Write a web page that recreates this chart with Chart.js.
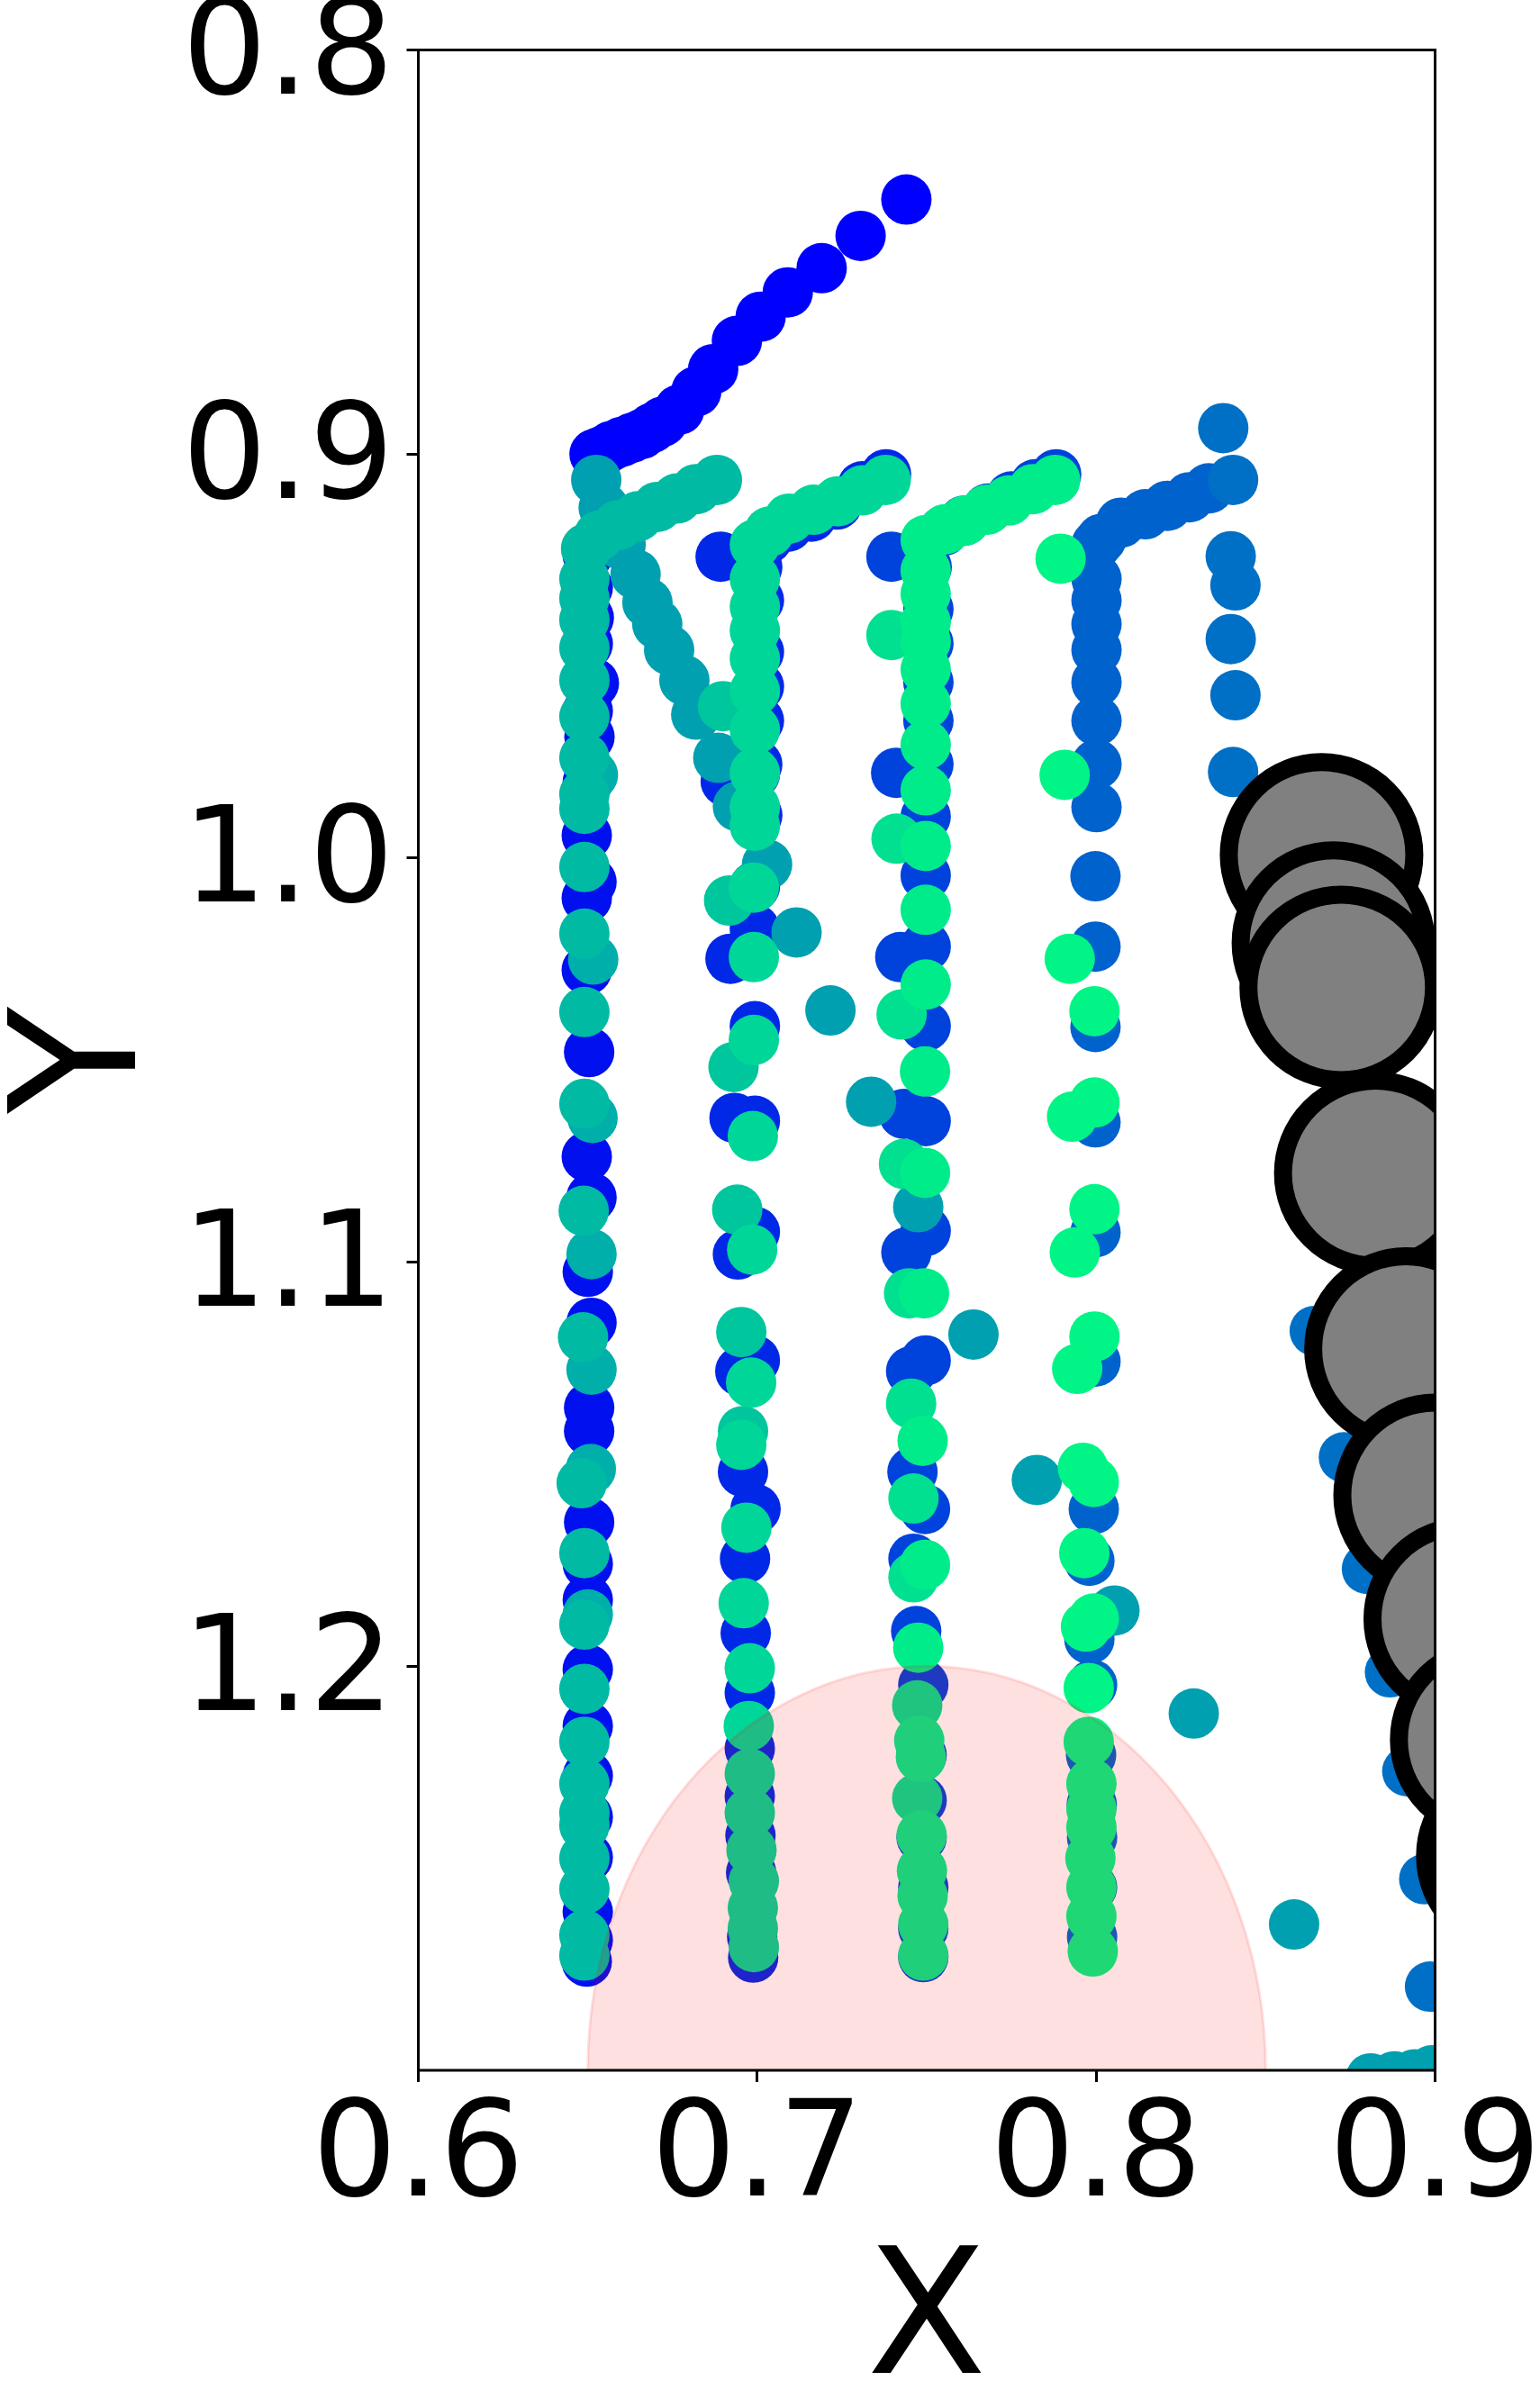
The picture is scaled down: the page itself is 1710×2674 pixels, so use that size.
<!DOCTYPE html>
<html>
<head>
<meta charset="utf-8">
<title>Trajectories</title>
<script src="https://cdn.jsdelivr.net/npm/chart.js@4.4.1/dist/chart.umd.min.js"></script>
<style>
  html, body { margin: 0; padding: 0; background: #fff; overflow: hidden; }
  #wrap { width: 1710px; height: 2674px; position: relative; }
</style>
</head>
<body>
<div id="wrap"><canvas id="chart"></canvas></div>
<script>
// axis ranges and ticks
const xMin = 0.6, xMax = 0.9;
const yMin = 0.8, yMax = 1.3;
const xTicks = [0.6, 0.7, 0.8, 0.9];
const yTicks = [0.8, 0.9, 1.0, 1.1, 1.2];

// pink ellipse: centre and half axes (data units)
const ellipseCenter = [0.75, 1.3];
const ellipseRadii = [0.1, 0.1];

// points [x, y], one array per colour
const blueDiag = [[0.744,0.837],[0.7305,0.846],[0.719,0.854],[0.709,0.860],[0.701,0.866],[0.694,0.872],[0.687,0.879],
  [0.682,0.8845],[0.677,0.889],[0.672,0.892],[0.669,0.8935],[0.666,0.895],[0.663,0.896],[0.660,0.897],[0.657,0.898],
  [0.655,0.899],[0.6535,0.8995],[0.652,0.900]];

const blue65 = [[0.650,0.925],[0.650,0.933],[0.6503,0.9405],[0.650,0.947],[0.6518,0.9567],[0.650,0.9636],[0.6505,0.970],
  [0.650,0.9812],[0.6497,0.9944],[0.6511,1.0059],[0.6497,1.0099],[0.6497,1.0277],[0.6504,1.048],[0.6497,1.0739],
  [0.6511,1.084],[0.650,1.1024],[0.6511,1.115],[0.6504,1.136],[0.6504,1.1418],[0.6504,1.1644],[0.650,1.1747],
  [0.650,1.1836],[0.650,1.2008],[0.650,1.2148],[0.650,1.2271],[0.650,1.2373],[0.650,1.2473],[0.650,1.2608],
  [0.650,1.2678],[0.6497,1.2731]];

const blue70 = [[0.738,0.905],[0.731,0.908],[0.7235,0.9125],[0.716,0.9155],[0.709,0.918],[0.703,0.921],
  [0.6892,0.9254],[0.700,0.928],[0.7005,0.9362],[0.7005,0.949],[0.7005,0.9575],[0.7005,0.966],[0.700,0.9768],
  [0.6907,0.981],[0.6993,0.9792],[0.700,0.9894],[0.6993,1.007],[0.6993,1.0176],[0.6921,1.0249],[0.6993,1.0416],
  [0.6933,1.0643],[0.6993,1.065],[0.6993,1.0925],[0.6943,1.0981],[0.6993,1.1243],[0.695,1.127],[0.6958,1.1519],
  [0.6995,1.1611],[0.6964,1.1734],[0.6966,1.1918],[0.6978,1.2066],[0.6978,1.2204],[0.6978,1.2322],[0.698,1.2419],
  [0.6982,1.2511],[0.6985,1.267],[0.6988,1.2721]];

const blue75 = [[0.7882,0.905],[0.782,0.9075],[0.775,0.9105],[0.768,0.9135],[0.761,0.9165],[0.755,0.919],
  [0.7396,0.9254],[0.750,0.928],[0.7505,0.9384],[0.7505,0.9469],[0.7505,0.9565],[0.7505,0.966],[0.7505,0.9768],
  [0.741,0.9789],[0.7497,0.9897],[0.7497,1.0043],[0.7497,1.0219],[0.7422,1.0245],[0.7497,1.0416],[0.7433,1.0633],
  [0.7497,1.0651],[0.7497,1.0923],[0.744,1.0976],[0.7497,1.1243],[0.7454,1.127],[0.7458,1.1519],[0.7495,1.1611],
  [0.7461,1.1734],[0.7469,1.1913],[0.749,1.2046],[0.7485,1.222],[0.7485,1.2332],[0.7485,1.2424],[0.749,1.2547],
  [0.749,1.2649],[0.749,1.272]];

const blue80 = [[0.8332,0.9085],[0.8275,0.9107],[0.821,0.9128],[0.8145,0.9149],[0.8073,0.917],[0.8015,0.921],
  [0.8001,0.9224],[0.8001,0.9309],[0.8001,0.9362],[0.8001,0.9421],[0.8001,0.9485],[0.8001,0.9565],[0.8001,0.966],
  [0.8001,0.9768],[0.8001,0.9874],[0.7998,1.0045],[0.7998,1.0219],[0.7998,1.0418],[0.7998,1.0654],[0.7998,1.0926],
  [0.7998,1.1246],[0.7993,1.1611],[0.798,1.1739],[0.798,1.1933],[0.7988,1.2046],[0.7985,1.222],[0.7987,1.2342],
  [0.7988,1.2424],[0.7988,1.2547],[0.7988,1.267]];

const steel84 = [[0.8375,0.8936],[0.8404,0.9064],[0.8397,0.9253],[0.8411,0.9325],[0.8397,0.9458],[0.8411,0.9597],
  [0.8404,0.9787],[0.850,1.003],[0.854,1.04],[0.862,1.075],[0.8645,1.117],[0.8731,1.1483],[0.8799,1.1759],
  [0.8867,1.2015],[0.8918,1.226],[0.8968,1.2527],[0.8985,1.2793]];

const tealPath = [[0.6525,0.9064],[0.6547,0.9133],[0.6597,0.9224],[0.6641,0.9298],[0.6676,0.9368],[0.6705,0.9421],
  [0.674,0.9485],[0.6785,0.956],[0.682,0.9645],[0.6885,0.9752],[0.6943,0.9872],[0.7029,1.0016],[0.7116,1.0184],
  [0.7216,1.0377],[0.7336,1.0603],[0.7475,1.0864],[0.7638,1.1179],[0.7825,1.1539],[0.8054,1.1862],[0.8288,1.2117],
  [0.8584,1.2639],[0.881,1.302],[0.888,1.3015],[0.894,1.301],[0.899,1.300]];

const teal65b = [[0.6515,0.9794],[0.6516,1.0251],[0.6514,1.0643],[0.6511,1.098],[0.6511,1.1266],[0.6509,1.1512],
  [0.650,1.1872]];

const teal65 = [[0.6881,0.9064],[0.682,0.9087],[0.6763,0.911],[0.6705,0.9131],[0.6648,0.9154],[0.659,0.9176],
  [0.6533,0.9202],[0.6495,0.9234],[0.649,0.9309],[0.649,0.9357],[0.649,0.941],[0.649,0.948],[0.649,0.956],
  [0.649,0.965],[0.649,0.9752],[0.649,0.9842],[0.649,0.9878],[0.649,1.0022],[0.649,1.0187],[0.649,1.0381],
  [0.649,1.0608],[0.6488,1.0873],[0.6486,1.1186],[0.6482,1.1547],[0.649,1.172],[0.649,1.1897],[0.649,1.2056],
  [0.649,1.2187],[0.649,1.2291],[0.649,1.2363],[0.649,1.2394],[0.649,1.2475],[0.649,1.2552],[0.649,1.2665],
  [0.649,1.2716]];

const turq70 = [[0.6899,0.9624],[0.6917,1.0105],[0.693,1.0517],[0.6941,1.087],[0.6953,1.1173],[0.6958,1.1418]];

const green70 = [[0.7379,0.9064],[0.731,0.909],[0.7238,0.9117],[0.7166,0.9138],[0.7094,0.916],[0.7036,0.9192],
  [0.6993,0.9224],[0.6993,0.9309],[0.6993,0.9378],[0.6993,0.9437],[0.6993,0.9506],[0.6993,0.9586],[0.6993,0.9682],
  [0.6993,0.9789],[0.6993,0.9874],[0.6993,0.992],[0.699,1.0073],[0.699,1.0245],[0.699,1.045],[0.6987,1.0688],
  [0.6985,1.0969],[0.6982,1.1298],[0.6953,1.1452],[0.6968,1.1657],[0.696,1.1844],[0.6978,1.2005],[0.6975,1.2148],
  [0.6978,1.2266],[0.6978,1.2363],[0.6983,1.2455],[0.699,1.2532],[0.6987,1.2598],[0.6987,1.2649],[0.699,1.2695]];

const green75 = [[0.7396,0.9448],[0.7411,0.9952],[0.7426,1.0387],[0.7433,1.0757],[0.7448,1.1077],[0.7454,1.135],
  [0.7461,1.1585],[0.7461,1.178],[0.7472,1.2097],[0.7472,1.2327]];

const spring75 = [[0.7879,0.9064],[0.7814,0.9087],[0.7742,0.9115],[0.7677,0.9138],[0.7612,0.9165],[0.7555,0.9186],
  [0.7497,0.9213],[0.7497,0.9288],[0.7497,0.9346],[0.7497,0.9416],[0.7497,0.9464],[0.7497,0.9533],[0.7497,0.9618],
  [0.7497,0.972],[0.7497,0.9832],[0.7497,0.997],[0.7497,1.0128],[0.7497,1.0313],[0.7495,1.0528],[0.7495,1.0779],
  [0.7492,1.1077],[0.7488,1.1442],[0.7495,1.1749],[0.7475,1.1954],[0.7478,1.2184],[0.7483,1.2225],[0.7485,1.2419],
  [0.7486,1.2506],[0.7488,1.2568],[0.749,1.2639],[0.749,1.2716]];

const spring80 = [[0.7895,0.9259],[0.7907,0.9794],[0.7922,1.0249],[0.7995,1.0379],[0.7995,1.0605],[0.7929,1.064],
  [0.7995,1.0869],[0.7937,1.0976],[0.7995,1.1184],[0.7944,1.1264],[0.7961,1.1509],[0.7993,1.1544],[0.7965,1.172],
  [0.7993,1.1882],[0.797,1.1902],[0.7978,1.2054],[0.7978,1.2187],[0.7986,1.2291],[0.7986,1.2353],[0.7986,1.2399],
  [0.7983,1.2475],[0.7986,1.2547],[0.7986,1.2619],[0.799,1.2706]];

const grayBig = [[0.8665,0.9992],[0.870,1.021],[0.8723,1.032],[0.8825,1.078],[0.8914,1.1215],[0.9,1.1577],
  [0.9089,1.1883],[0.9167,1.2182],[0.9244,1.247]];

// drawing order and colours (winter colormap, blue -> green)
const layers = [
  [blueDiag, '#0000ff'],
  [blue65, '#0010ee'],
  [blue70, '#0028e6'],
  [blue75, '#0042dc'],
  [blue80, '#0062cc'],
  [steel84, '#0070c6'],
  [tealPath, '#00a0b0'],
  [teal65b, '#00aeaa'],
  [teal65, '#00baa4'],
  [turq70, '#00c69e'],
  [green70, '#00d698'],
  [green75, '#00e090'],
  [spring75, '#00ec8a'],
  [spring80, '#00f586']
];

const toXY = pts => pts.map(p => ({ x: p[0], y: p[1] }));

const datasets = layers.map(([pts, color]) => ({
  data: toXY(pts),
  pointRadius: 28,
  pointBackgroundColor: color,
  pointBorderWidth: 0,
  clip: 0
}));

datasets.push({
  data: toXY(grayBig),
  pointRadius: 103,
  pointBackgroundColor: '#808080',
  pointBorderColor: '#000000',
  pointBorderWidth: 20,
  clip: 0
});

// Chart.js paints dataset 0 last, so flip to get blue first, gray on top
datasets.reverse();

// pink ellipse on top of the points
const ellipsePlugin = {
  id: 'ellipse',
  afterDatasetsDraw(chart) {
    const { ctx, chartArea, scales } = chart;
    const cx = scales.x.getPixelForValue(ellipseCenter[0]);
    const cy = scales.y.getPixelForValue(ellipseCenter[1]);
    const rx = Math.abs(scales.x.getPixelForValue(ellipseCenter[0] + ellipseRadii[0]) - cx);
    const ry = Math.abs(scales.y.getPixelForValue(ellipseCenter[1] - ellipseRadii[1]) - cy);
    ctx.save();
    ctx.beginPath();
    ctx.rect(chartArea.left, chartArea.top, chartArea.right - chartArea.left, chartArea.bottom - chartArea.top);
    ctx.clip();
    ctx.beginPath();
    ctx.ellipse(cx, cy, rx, ry, 0, 0, Math.PI * 2);
    ctx.fillStyle = 'rgba(255, 0, 0, 0.12)';
    ctx.fill();
    ctx.lineWidth = 3;
    ctx.strokeStyle = 'rgba(255, 0, 0, 0.12)';
    ctx.stroke();
    ctx.restore();
  }
};

// full box round the plot
const framePlugin = {
  id: 'frame',
  afterDraw(chart) {
    const { ctx, chartArea: a } = chart;
    ctx.save();
    ctx.lineWidth = 3;
    ctx.strokeStyle = '#000';
    ctx.strokeRect(a.left, a.top, a.right - a.left, a.bottom - a.top);
    ctx.restore();
  }
};

const tickFont = { family: 'DejaVu Sans', size: 148, lineHeight: 1 };
const titleFont = { family: 'DejaVu Sans', size: 194, lineHeight: 0.8 };

new Chart(document.getElementById('chart'), {
  type: 'scatter',
  data: { datasets },
  options: {
    responsive: true,
    maintainAspectRatio: false,
    devicePixelRatio: 1,
    animation: false,
    events: [],
    layout: { autoPadding: false, padding: { left: 0, top: 55.5, right: 116.5, bottom: 0 } },
    plugins: { legend: { display: false }, tooltip: { enabled: false } },
    scales: {
      x: {
        type: 'linear',
        position: 'bottom',
        afterDataLimits: s => { s.min = xMin; s.max = xMax; },
        afterBuildTicks: s => { s.min = xMin; s.max = xMax; s.ticks = xTicks.map(v => ({ value: v })); },
        afterFit: s => { s.height = 375; s.paddingLeft = 0; s.paddingRight = 0; },
        border: { display: false },
        grid: { drawOnChartArea: false, drawTicks: true, tickLength: 13, lineWidth: 3, color: '#000' },
        ticks: { color: '#000', font: tickFont, padding: 14, maxRotation: 0, autoSkip: false,
          callback: v => Number(v).toFixed(1) },
        title: { display: true, text: 'X', color: '#000', font: titleFont, padding: { top: 0, bottom: 12 } }
      },
      y: {
        type: 'linear',
        position: 'left',
        reverse: true,
        min: yMin,
        max: yMax,
        afterBuildTicks: s => { s.min = yMin; s.max = yMax; s.ticks = yTicks.map(v => ({ value: v })); },
        afterFit: s => { s.width = 464.5; s.paddingTop = 0; s.paddingBottom = 0; },
        border: { display: false },
        grid: { drawOnChartArea: false, drawTicks: true, tickLength: 13, lineWidth: 3, color: '#000' },
        ticks: { color: '#000', font: tickFont, padding: 14, labelOffset: 10, autoSkip: false,
          callback: v => Number(v).toFixed(1) },
        title: { display: true, text: 'Y', color: '#000', font: titleFont, padding: { top: 22, bottom: 0 } }
      }
    }
  },
  plugins: [ellipsePlugin, framePlugin]
});
</script>
</body>
</html>
